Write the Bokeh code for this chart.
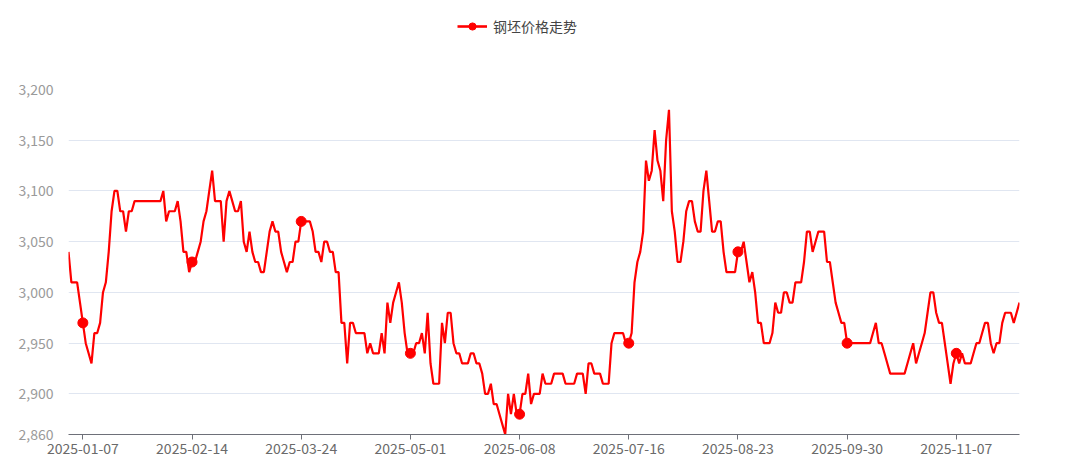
import pandas as pd
from bokeh.plotting import figure
from bokeh.layouts import column
from bokeh.models import (Range1d, FixedTicker, NumeralTickFormatter, Legend,
                          LegendItem, ColumnDataSource)
from bokeh.embed import file_html
from bokeh.resources import INLINE

series_name = "钢坯价格走势"
start_date = "2025-01-02"

prices = [
    3040, 3010, 3010, 3010, 2990, 2970, 2950, 2940, 2930, 2960,
    2960, 2970, 3000, 3010, 3040, 3080, 3100, 3100, 3080, 3080,
    3060, 3080, 3080, 3090, 3090, 3090, 3090, 3090, 3090, 3090,
    3090, 3090, 3090, 3100, 3070, 3080, 3080, 3080, 3090, 3070,
    3040, 3040, 3020, 3030, 3030, 3040, 3050, 3070, 3080, 3100,
    3120, 3090, 3090, 3090, 3050, 3090, 3100, 3090, 3080, 3080,
    3090, 3050, 3040, 3060, 3040, 3030, 3030, 3020, 3020, 3040,
    3060, 3070, 3060, 3060, 3040, 3030, 3020, 3030, 3030, 3050,
    3050, 3070, 3070, 3070, 3070, 3060, 3040, 3040, 3030, 3050,
    3050, 3040, 3040, 3020, 3020, 2970, 2970, 2930, 2970, 2970,
    2960, 2960, 2960, 2960, 2940, 2950, 2940, 2940, 2940, 2960,
    2940, 2990, 2970, 2990, 3000, 3010, 2990, 2960, 2940, 2940,
    2940, 2950, 2950, 2960, 2940, 2980, 2930, 2910, 2910, 2910,
    2970, 2950, 2980, 2980, 2950, 2940, 2940, 2930, 2930, 2930,
    2940, 2940, 2930, 2930, 2920, 2900, 2900, 2910, 2890, 2890,
    2880, 2870, 2860, 2900, 2880, 2900, 2880, 2880, 2900, 2900,
    2920, 2890, 2900, 2900, 2900, 2920, 2910, 2910, 2910, 2920,
    2920, 2920, 2920, 2910, 2910, 2910, 2910, 2920, 2920, 2920,
    2900, 2930, 2930, 2920, 2920, 2920, 2910, 2910, 2910, 2950,
    2960, 2960, 2960, 2960, 2950, 2950, 2960, 3010, 3030, 3040,
    3060, 3130, 3110, 3120, 3160, 3130, 3120, 3090, 3150, 3180,
    3080, 3060, 3030, 3030, 3050, 3080, 3090, 3090, 3070, 3060,
    3060, 3100, 3120, 3090, 3060, 3060, 3070, 3070, 3040, 3020,
    3020, 3020, 3020, 3040, 3040, 3050, 3030, 3010, 3020, 3000,
    2970, 2970, 2950, 2950, 2950, 2960, 2990, 2980, 2980, 3000,
    3000, 2990, 2990, 3010, 3010, 3010, 3030, 3060, 3060, 3040,
    3050, 3060, 3060, 3060, 3030, 3030, 3010, 2990, 2980, 2970,
    2970, 2950, 2950, 2950, 2950, 2950, 2950, 2950, 2950, 2950,
    2960, 2970, 2950, 2950, 2940, 2930, 2920, 2920, 2920, 2920,
    2920, 2920, 2930, 2940, 2950, 2930, 2940, 2950, 2960, 2980,
    3000, 3000, 2980, 2970, 2970, 2950, 2930, 2910, 2930, 2940,
    2930, 2940, 2930, 2930, 2930, 2940, 2950, 2950, 2960, 2970,
    2970, 2950, 2940, 2950, 2950, 2970, 2980, 2980, 2980, 2970,
    2980, 2990,
]

tick_labels = ["2025-01-07", "2025-02-14", "2025-03-24", "2025-05-01",
               "2025-06-08", "2025-07-16", "2025-08-23", "2025-09-30",
               "2025-11-07"]
y_ticks = [2860, 2900, 2950, 3000, 3050, 3100, 3150, 3200]

dates = pd.date_range(start_date, periods=len(prices)).strftime("%Y-%m-%d").tolist()
idx = list(range(len(prices)))
tick_pos = [dates.index(t) for t in tick_labels]
marker_vals = [prices[i] for i in tick_pos]

FONT = "Noto Sans CJK SC"
RED = "#ff0000"
W = 1072
LEG_H = 40
LEFT = 68

# ---- legend strip (a small figure holding only the legend) ----
lf = figure(width=W, height=LEG_H, output_backend="svg", toolbar_location=None,
            x_range=Range1d(0, 1), y_range=Range1d(0, 1),
            x_axis_type=None, y_axis_type=None,
            min_border_left=LEFT, min_border_right=53,
            min_border_top=0, min_border_bottom=0)
lf.outline_line_color = None
lf.xgrid.visible = False
lf.ygrid.visible = False
nan_src = ColumnDataSource(dict(x=[float("nan")], y=[float("nan")]))
l_line = lf.line("x", "y", source=nan_src, line_color=RED, line_width=2.6)
l_dot = lf.scatter("x", "y", source=nan_src, size=14, fill_color=RED, line_color=RED)
legend = Legend(items=[LegendItem(label=series_name, renderers=[l_line, l_dot])],
                orientation="horizontal", location=(457 - LEFT, 4),
                border_line_color=None, background_fill_alpha=0,
                padding=0, margin=0, glyph_width=30, glyph_height=18,
                label_standoff=6, label_text_font=FONT,
                label_text_font_size="14px", label_text_color="#444444")
lf.add_layout(legend)

# ---- main chart ----
p = figure(width=W, height=460 - LEG_H, output_backend="svg", toolbar_location=None,
           x_range=Range1d(0, len(prices) - 1), y_range=Range1d(2860, 3200),
           min_border_left=LEFT, min_border_right=53, min_border_top=89 - LEG_H,
           min_border_bottom=26)
p.outline_line_color = None
p.background_fill_color = "white"
p.border_fill_color = "white"

src = ColumnDataSource(dict(x=idx, y=prices, d=dates))
line_r = p.line("x", "y", source=src, line_color=RED, line_width=2.2)
msrc = ColumnDataSource(dict(x=tick_pos, y=marker_vals))
circ_r = p.scatter("x", "y", source=msrc, size=10, fill_color=RED, line_color=RED)

# x axis
xa = p.xaxis[0]
xa.ticker = FixedTicker(ticks=tick_pos)
xa.major_label_overrides = {pos: lab for pos, lab in zip(tick_pos, tick_labels)}
xa.minor_tick_line_color = None
xa.major_tick_in = 0
xa.major_tick_out = 5
xa.major_tick_line_color = "#6E7079"
xa.axis_line_color = "#6E7079"
xa.major_label_text_color = "#6a6a6a"
xa.major_label_text_font = FONT
xa.major_label_text_font_size = "14px"
xa.major_label_standoff = 3

# y axis
ya = p.yaxis[0]
ya.ticker = FixedTicker(ticks=y_ticks)
ya.formatter = NumeralTickFormatter(format="0,0")
ya.axis_line_color = None
ya.major_tick_line_color = None
ya.minor_tick_line_color = None
ya.major_label_text_color = "#9a9a9a"
ya.major_label_text_font = FONT
ya.major_label_text_font_size = "14px"
ya.major_label_standoff = 9

p.xgrid.grid_line_color = None
p.ygrid.grid_line_color = "#E0E6F1"
p.ygrid.grid_line_width = 1

layout = column(lf, p, spacing=0)
open("out.html", "w").write(file_html(layout, INLINE))
